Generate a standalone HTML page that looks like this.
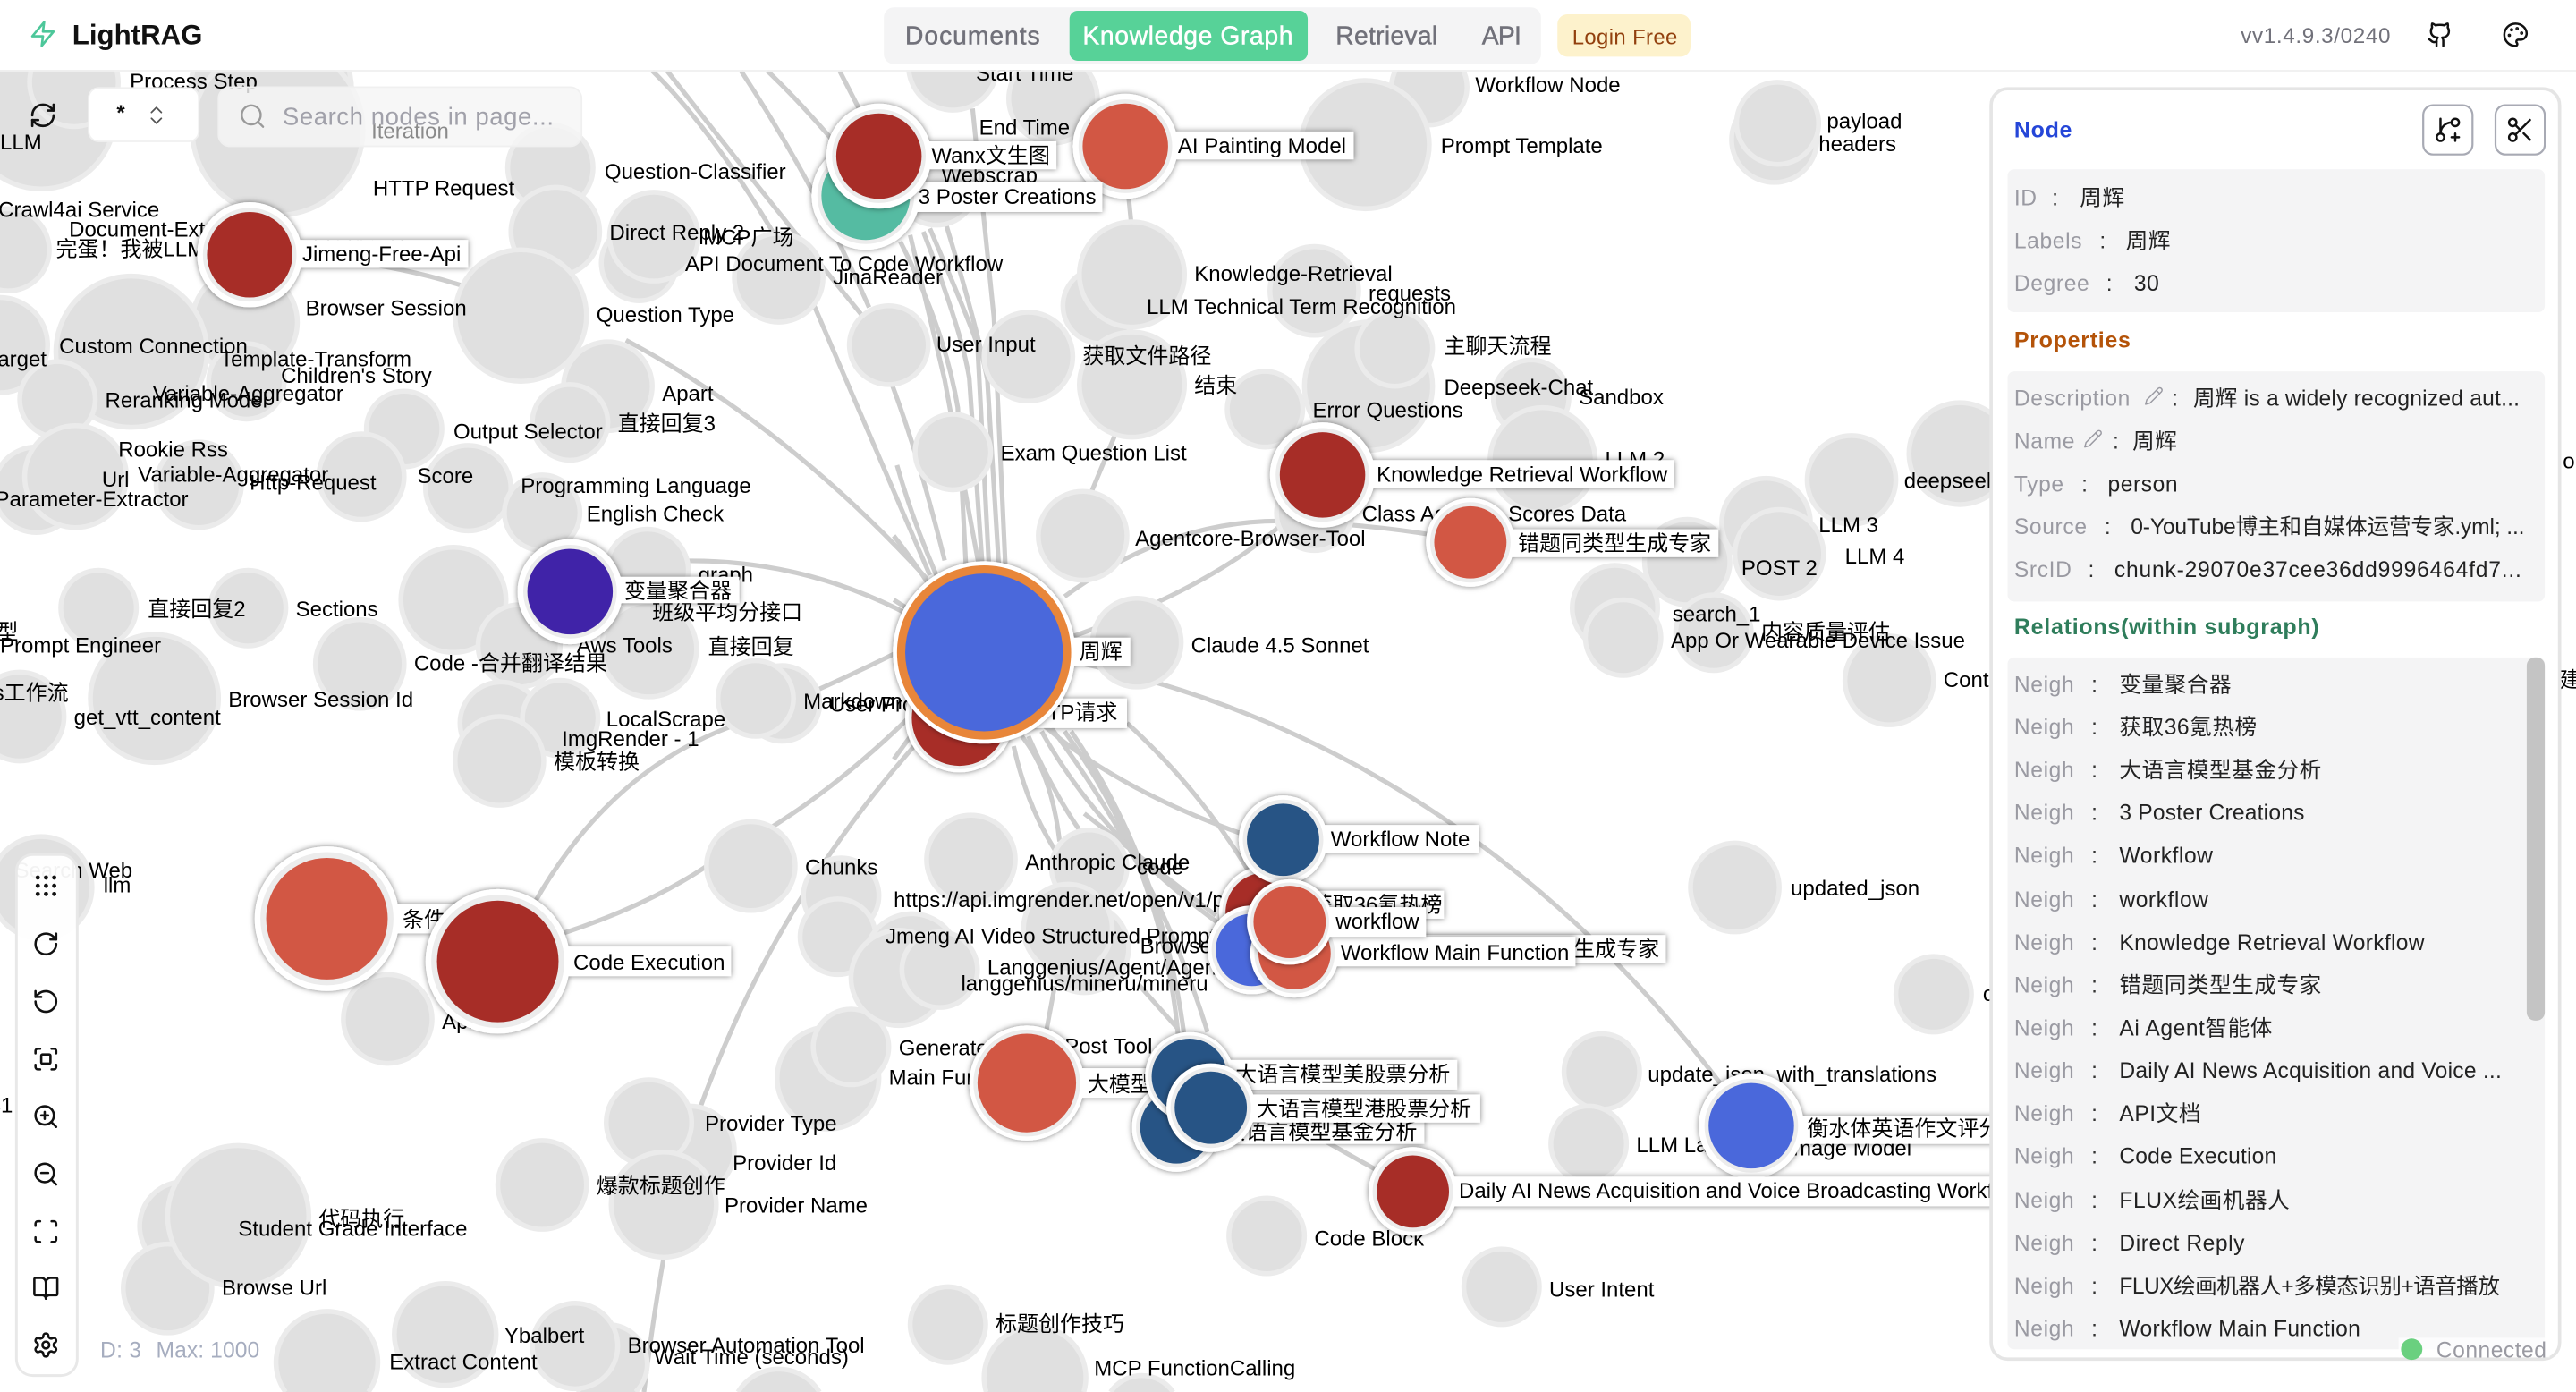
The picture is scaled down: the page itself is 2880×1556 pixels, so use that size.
<!DOCTYPE html>
<html><head><meta charset="utf-8"><title>LightRAG</title>
<style>
html,body{margin:0;padding:0;background:#fff;width:2880px;height:1556px;overflow:hidden}
svg{display:block}
text{font-family:"Liberation Sans","Noto Sans CJK SC",sans-serif;dominant-baseline:auto}
.l text,text.l{font-size:13.07px;fill:#000}
.e path{fill:none;stroke:#cdcdcd;stroke-width:2.8}
.g circle,.g path{fill:#e0e0e0;stroke:#ebebeb;stroke-width:3}
.ic{fill:none;stroke:#111;stroke-width:2;stroke-linecap:round;stroke-linejoin:round}
.k{font-size:13.4px;fill:#9a9aa2;letter-spacing:.35px}
.c{font-size:13.4px;fill:#333}
.v{font-size:13.4px;fill:#222;letter-spacing:.3px}
.h{font-size:13.6px;font-weight:bold;letter-spacing:.4px}
.t{font-size:15.4px;fill:#71717a;stroke:#71717a;stroke-width:.25}
</style></head><body>
<svg width="2880" height="1556" viewBox="0 0 1568 847" preserveAspectRatio="none" xmlns="http://www.w3.org/2000/svg">
<defs>
<filter id="s" x="-30%" y="-60%" width="160%" height="220%"><feDropShadow dx="0" dy="0" stdDeviation="1.8" flood-color="#000" flood-opacity=".5"/></filter>
<clipPath id="sec3"><rect x="1222" y="400" width="327" height="421"/></clipPath>
</defs>
<rect width="1568" height="847" fill="#fff"/>
<g class="e">
<path d="M397 43Q445 90 496 187L566 350"/>
<path d="M406 43Q470 125 524 191Q550 240 575 341"/>
<path d="M451 43Q495 110 529 187"/>
<path d="M467 43Q490 65 515 95"/>
<path d="M511 43L530 80"/>
<path d="M592 66L605 193L612 345"/>
<path d="M548 147Q575 200 583 248L588 345"/>
<path d="M554 143Q570 210 575 231L596 345"/>
<path d="M566 139Q590 195 595 210L602 345"/>
<path d="M562 141Q585 200 590 230L598 345"/>
<path d="M576 137Q595 200 601 231L608 345"/>
<path d="M687 120L689 140"/><path d="M679 264L662 305"/>
<path d="M648 363Q720 310 800 318Q840 320 875 326"/>
<path d="M630 395Q740 360 790 310"/>
<path d="M381 207Q480 260 564 352"/>
<path d="M686 440Q730 480 760 530"/>
<path d="M636 442Q680 480 755 507"/>
<path d="M640 400C800 430 950 520 1066 685"/>
<path d="M617 454Q625 490 642 517"/>
<path d="M622 448Q640 470 645 512"/>
<path d="M626 448Q640 480 657 505"/>
<path d="M634 445Q670 510 742 562"/>
<path d="M640 443Q705 530 735 628"/>
<path d="M648 445Q710 530 718 640"/>
<path d="M652 445Q710 530 722 640"/>
<path d="M660 495L740 557"/>
<path d="M693 599L717 626"/>
<path d="M336 570Q400 550 440 520Q500 490 560 430"/>
<path d="M325 550Q370 470 445 442Q500 420 550 395"/>
<path d="M560 450Q470 550 424 680Q405 740 392 847"/>
<path d="M373 345Q470 330 555 375"/>
<path d="M178 155Q240 160 285 175"/>
<path d="M546 283Q555 315 570 350"/><path d="M544 326Q555 340 565 355"/><path d="M544 365L560 375"/><path d="M544 462L560 440"/>
<path d="M790 685L838 712"/><path d="M636 632L642 600"/>
</g>
<g class="g">
<circle cx="25" cy="70" r="45"/><circle cx="45" cy="50" r="27"/><circle cx="165" cy="55" r="49"/><circle cx="169" cy="79" r="52"/>
<circle cx="335" cy="102" r="26"/><circle cx="338" cy="141" r="27"/><circle cx="389" cy="160" r="23"/><circle cx="398" cy="144" r="27"/><circle cx="317" cy="192" r="40"/><circle cx="474" cy="169" r="27"/><circle cx="541" cy="210" r="24"/>
<circle cx="5" cy="152" r="25"/><circle cx="0" cy="210" r="29"/><circle cx="149" cy="196" r="32"/><circle cx="80" cy="214" r="46"/><circle cx="35" cy="243" r="23"/><circle cx="150" cy="232" r="23"/><circle cx="246" cy="261" r="23"/><circle cx="370" cy="235" r="27"/><circle cx="347" cy="257" r="23"/>
<circle cx="220" cy="290" r="26"/><circle cx="285" cy="297" r="26"/><circle cx="121" cy="295" r="26"/><circle cx="22" cy="298" r="26"/><circle cx="46" cy="290" r="31"/><circle cx="330" cy="312" r="23"/><circle cx="394" cy="347" r="25"/><circle cx="276" cy="365" r="32"/><circle cx="60" cy="370" r="23"/><circle cx="151" cy="370" r="23"/><circle cx="219" cy="404" r="27"/><circle cx="94" cy="425" r="39"/><circle cx="12" cy="436" r="27"/><circle cx="316" cy="393" r="25"/><circle cx="395" cy="395" r="29"/><circle cx="476" cy="428" r="23"/><circle cx="460" cy="425" r="23"/><circle cx="305" cy="440" r="25"/><circle cx="341" cy="437" r="23"/><circle cx="304" cy="463" r="27"/><circle cx="457" cy="527" r="27"/><circle cx="25" cy="540" r="31"/><circle cx="512" cy="545" r="23"/><circle cx="510" cy="570" r="23"/><circle cx="555" cy="585" r="29"/>
<circle cx="236" cy="620" r="27"/><circle cx="420" cy="700" r="27"/><circle cx="395" cy="683" r="26"/><circle cx="330" cy="721" r="27"/><circle cx="404" cy="733" r="32"/><circle cx="504" cy="656" r="31"/><circle cx="518" cy="637" r="23"/><circle cx="112" cy="746" r="27"/><circle cx="102" cy="784" r="27"/><circle cx="145" cy="740" r="43"/>
<path d="M173.8 847A31 31 0 1 1 224.2 847"/><circle cx="271" cy="812" r="31"/><path d="M353.1 847A24 24 0 1 1 386.9 847"/><circle cx="350" cy="819" r="26"/><path d="M449.2 847A29 29 0 0 1 498.800 847"/>
<circle cx="771" cy="752" r="23"/><circle cx="914" cy="783" r="23"/><circle cx="577" cy="806" r="23"/><path d="M600.3 847A31 31 0 1 1 659.7 847"/><path d="M676 847A23 23 0 0 1 714 847"/><circle cx="975" cy="652" r="23"/><circle cx="967" cy="696" r="23"/><circle cx="547" cy="595" r="29"/><circle cx="572" cy="590" r="23"/><circle cx="660" cy="577" r="27"/>
<circle cx="659" cy="326" r="27"/><circle cx="692" cy="391" r="27"/><circle cx="800" cy="312" r="23"/><circle cx="580" cy="275" r="23"/><circle cx="591" cy="523" r="27"/><circle cx="663" cy="528" r="23"/><circle cx="650" cy="565" r="27"/><circle cx="1056" cy="540" r="27"/><circle cx="983" cy="370" r="26"/><circle cx="988" cy="388" r="23"/><circle cx="1027" cy="342" r="26"/><circle cx="1043" cy="385" r="23"/><circle cx="1075" cy="318" r="27"/><circle cx="1083" cy="337" r="27"/>
<circle cx="580" cy="40" r="27"/><circle cx="641" cy="60" r="27"/><circle cx="570" cy="112" r="25"/><circle cx="870" cy="53" r="23"/><circle cx="831" cy="88" r="39"/><circle cx="1080" cy="85" r="26"/><circle cx="1082" cy="75" r="25"/><circle cx="670" cy="186" r="23"/><circle cx="689" cy="167" r="32"/><circle cx="800" cy="177" r="27"/><circle cx="833" cy="235" r="39"/><circle cx="849" cy="212" r="23"/><circle cx="689" cy="234" r="32"/><circle cx="770" cy="249" r="23"/><circle cx="626" cy="217" r="27"/><circle cx="932" cy="242" r="23"/><circle cx="939" cy="280" r="32"/>
<circle cx="1193" cy="276" r="31"/><circle cx="1127" cy="292" r="27"/><circle cx="1150" cy="414" r="27"/><circle cx="1177" cy="605" r="23"/>
</g>
<g class="l">
<text x="79" y="54">Process Step</text><text x="0" y="91">LLM</text><text x="227" y="119">HTTP Request</text><text x="368" y="109">Question-Classifier</text><text x="-1" y="132">Crawl4ai Service</text><text x="42" y="144">Document-Extractor</text><text x="34" y="156">完蛋！我被LLM包围了</text><text x="184" y="157">线性排行榜</text><text x="371" y="146">Direct Reply 2</text><text x="428" y="149">MCP广场</text><text x="417" y="165">API Document To Code Workflow</text><text x="507" y="173">JinaReader</text><text x="186" y="192">Browser Session</text><text x="363" y="196">Question Type</text><text x="36" y="215">Custom Connection</text><text x="-8" y="223">Target</text><text x="134" y="223">Template-Transform</text><text x="171" y="233">Children's Story</text><text x="64" y="248">Reranking Model</text><text x="93" y="244">Variable-Aggregator</text><text x="403" y="244">Apart</text><text x="376" y="262">直接回复3</text><text x="276" y="267">Output Selector</text><text x="254" y="294">Score</text><text x="72" y="278">Rookie Rss</text><text x="62" y="296">Url</text><text x="84" y="293">Variable-Aggregator</text><text x="152" y="298">Http-Request</text><text x="-3" y="308">Parameter-Extractor</text><text x="317" y="300">Programming Language</text><text x="357" y="317">English Check</text><text x="425" y="354">graph</text><text x="397" y="377">班级平均分接口</text><text x="90" y="375">直接回复2</text><text x="180" y="375">Sections</text><text x="-2" y="389">型</text><text x="0" y="397">Prompt Engineer</text><text x="351" y="397">Aws Tools</text><text x="431" y="398">直接回复</text><text x="252" y="408">Code -合并翻译结果</text><text x="-4" y="426">s工作流</text><text x="139" y="430">Browser Session Id</text><text x="45" y="441">get_vtt_content</text><text x="369" y="442">LocalScrape</text><text x="342" y="454">ImgRender - 1</text><text x="337" y="468">模板转换</text><text x="489" y="431">Markdown</text><text x="505" y="433">User Prompt</text><text x="9" y="534">Search Web</text><text x="63" y="543">llm</text><text x="490" y="532">Chunks</text><text x="624" y="529">Anthropic Claude</text><text x="692" y="532">code</text><text x="544" y="552">https://api.imgrender.net/open/v1/pr</text><text x="539" y="574">Jmeng AI Video Structured Prompt</text><text x="694" y="580">Browse</text><text x="601" y="593">Langgenius/Agent/Agent</text><text x="585" y="603">langgenius/mineru/mineru</text><text x="547" y="642">Generate</text><text x="648" y="641">Post Tool</text><text x="541" y="660">Main Function</text><text x="429" y="688">Provider Type</text><text x="446" y="712">Provider Id</text><text x="363" y="726">爆款标题创作</text><text x="441" y="738">Provider Name</text><text x="194" y="746">代码执行</text><text x="145" y="752">Student Grade Interface</text><text x="135" y="788">Browse Url</text><text x="269" y="626">Api</text><text x="307" y="817">Ybalbert</text><text x="237" y="833">Extract Content</text><text x="382" y="823">Browser Automation Tool</text><text x="398" y="830">Wait Time (seconds)</text><text x="606" y="810">标题创作技巧</text><text x="666" y="837">MCP FunctionCalling</text><text x="943" y="789">User Intent</text><text x="800" y="758">Code Block</text><text x="996" y="701">LLM Large</text><text x="1003" y="658">update_json_with_translations</text><text x="1090" y="545">updated_json</text><text x="1207" y="609">c</text><text x="898" y="56">Workflow Node</text><text x="594" y="49">Start Time</text><text x="596" y="82">End Time</text><text x="573" y="111">Webscrap</text><text x="877" y="93">Prompt Template</text><text x="1112" y="78">payload</text><text x="1107" y="92">headers</text><text x="727" y="171">Knowledge-Retrieval</text><text x="833" y="183">requests</text><text x="698" y="191">LLM Technical Term Recognition</text><text x="570" y="214">User Input</text><text x="659" y="221">获取文件路径</text><text x="727" y="239">结束</text><text x="879" y="215">主聊天流程</text><text x="879" y="240">Deepseek-Chat</text><text x="961" y="246">Sandbox</text><text x="799" y="254">Error Questions</text><text x="609" y="280">Exam Question List</text><text x="977" y="284">LLM 2</text><text x="1159" y="297">deepseek</text><text x="1107" y="324">LLM 3</text><text x="1123" y="343">LLM 4</text><text x="1060" y="350">POST 2</text><text x="829" y="317">Class Aggre</text><text x="918" y="317">Scores Data</text><text x="691" y="332">Agentcore-Browser-Tool</text><text x="1018" y="378">search_1</text><text x="1072" y="389">内容质量评估</text><text x="1017" y="394">App Or Wearable Device Issue</text><text x="725" y="397">Claude 4.5 Sonnet</text><text x="1183" y="418">Content</text><text x="1560" y="285">o</text><text x="1558" y="418">建</text><text x="-6" y="677">s1</text><text x="1088" y="703">Image Model</text>
</g>

<g class="l">
<!-- AI Painting -->
<g filter="url(#s)"><rect x="685" y="80" width="139" height="17" fill="#fff"/><circle cx="685" cy="89" r="32" fill="#fff"/></g><circle cx="685" cy="89" r="28.5" fill="#ececec"/><circle cx="685" cy="89" r="26" fill="#d25744"/><text x="717" y="93">AI Painting Model</text>
<!-- Teal -->
<g filter="url(#s)"><rect x="527" y="111" width="144" height="18" fill="#fff"/><circle cx="527" cy="119" r="33" fill="#fff"/></g><circle cx="527" cy="119" r="29.5" fill="#ececec"/><circle cx="527" cy="119" r="27" fill="#55bba2"/><text x="559" y="124">3 Poster Creations</text>
<!-- Wanx -->
<g filter="url(#s)"><rect x="535" y="86" width="108" height="17" fill="#fff"/><circle cx="535" cy="95" r="32" fill="#fff"/></g><circle cx="535" cy="95" r="28.5" fill="#ececec"/><circle cx="535" cy="95" r="26" fill="#a72d27"/><text x="567" y="99">Wanx文生图</text>
<!-- Jimeng -->
<g filter="url(#s)"><rect x="152" y="146" width="133" height="17" fill="#fff"/><circle cx="152" cy="155" r="32" fill="#fff"/></g><circle cx="152" cy="155" r="28.5" fill="#ececec"/><circle cx="152" cy="155" r="26" fill="#a72d27"/><text x="184" y="159">Jimeng-Free-Api</text>
<!-- Indigo -->
<g filter="url(#s)"><rect x="347" y="351" width="103" height="16" fill="#fff"/><circle cx="347" cy="360" r="32" fill="#fff"/></g><circle cx="347" cy="360" r="28.5" fill="#ececec"/><circle cx="347" cy="360" r="26" fill="#4023a8"/><text x="380" y="364">变量聚合器</text>
<!-- KR workflow -->
<g filter="url(#s)"><rect x="805" y="280" width="214" height="17" fill="#fff"/><circle cx="805" cy="289" r="32" fill="#fff"/></g><circle cx="805" cy="289" r="28.5" fill="#ececec"/><circle cx="805" cy="289" r="26" fill="#a72d27"/><text x="838" y="293">Knowledge Retrieval Workflow</text>
<!-- cuoti -->
<g filter="url(#s)"><rect x="895" y="322" width="151" height="17" fill="#fff"/><circle cx="895" cy="330" r="27" fill="#fff"/></g><circle cx="895" cy="330" r="24.5" fill="#ececec"/><circle cx="895" cy="330" r="22" fill="#d25744"/><text x="924" y="335">错题同类型生成专家</text>
<!-- HTTP -->
<g filter="url(#s)"><rect x="584" y="425" width="102" height="18" fill="#fff"/><circle cx="584" cy="437" r="33" fill="#fff"/></g><circle cx="584" cy="437" r="31" fill="#ececec"/><circle cx="584" cy="437" r="29" fill="#a72d27"/><text x="620" y="438">HTTP请求</text>
<!-- Hub -->
<g filter="url(#s)"><rect x="598" y="388" width="90" height="17" fill="#fff"/><circle cx="599" cy="397" r="55.5" fill="#fff"/></g><circle cx="599" cy="397" r="53" fill="#e8863a"/><circle cx="599" cy="397" r="48" fill="#4a68db"/><text x="657" y="401">周辉</text>
<!-- 36 -->
<g filter="url(#s)"><rect x="770" y="542" width="109" height="17" fill="#fff"/><circle cx="770" cy="555" r="28" fill="#fff"/></g><circle cx="770" cy="555" r="26" fill="#ececec"/><circle cx="770" cy="555" r="24" fill="#a72d27"/><text x="798" y="555">获取36氪热榜</text>
<!-- Workflow Note -->
<g filter="url(#s)"><rect x="781" y="502" width="119" height="17" fill="#fff"/><circle cx="781" cy="511" r="27" fill="#fff"/></g><circle cx="781" cy="511" r="24.5" fill="#ececec"/><circle cx="781" cy="511" r="22" fill="#275485"/><text x="810" y="515">Workflow Note</text>
<!-- blue w/ long label -->
<g filter="url(#s)"><rect x="762" y="569" width="252" height="17" fill="#fff"/><circle cx="762" cy="578" r="27" fill="#fff"/></g><circle cx="762" cy="578" r="24.5" fill="#ececec"/><circle cx="762" cy="578" r="22" fill="#4a68db"/><text x="1010" y="582" text-anchor="end">生成专家</text>
<!-- WMF -->
<g filter="url(#s)"><rect x="788" y="570" width="171" height="18" fill="#fff"/><circle cx="788" cy="580" r="27" fill="#fff"/></g><circle cx="788" cy="580" r="24.5" fill="#ececec"/><circle cx="788" cy="580" r="22" fill="#d25744"/><text x="816" y="584">Workflow Main Function</text>
<!-- workflow -->
<g filter="url(#s)"><rect x="785" y="552" width="83" height="18" fill="#fff"/><circle cx="785" cy="561" r="26" fill="#fff"/></g><circle cx="785" cy="561" r="24" fill="#ececec"/><circle cx="785" cy="561" r="22" fill="#d25744"/><text x="813" y="565">workflow</text>
<!-- Damoxing -->
<g filter="url(#s)"><rect x="625" y="650" width="90" height="18" fill="#fff"/><circle cx="625" cy="659" r="35" fill="#fff"/></g><circle cx="625" cy="659" r="32.5" fill="#ececec"/><circle cx="625" cy="659" r="30" fill="#d25744"/><text x="662" y="664">大模型</text>
<!-- Fund -->
<g filter="url(#s)"><rect x="716" y="679" width="151" height="17" fill="#fff"/><circle cx="716" cy="686" r="27" fill="#fff"/></g><circle cx="716" cy="686" r="24.5" fill="#ececec"/><circle cx="716" cy="686" r="22" fill="#275485"/><text x="745" y="693">大语言模型基金分析</text>
<!-- US -->
<g filter="url(#s)"><rect x="724" y="645" width="163" height="18" fill="#fff"/><circle cx="724" cy="655" r="27" fill="#fff"/></g><circle cx="724" cy="655" r="25" fill="#ececec"/><circle cx="724" cy="655" r="23" fill="#275485"/><text x="752" y="658">大语言模型美股票分析</text>
<!-- HK -->
<g filter="url(#s)"><rect x="737" y="666" width="164" height="17" fill="#fff"/><circle cx="737" cy="674" r="27" fill="#fff"/></g><circle cx="737" cy="674" r="24.5" fill="#ececec"/><circle cx="737" cy="674" r="22" fill="#275485"/><text x="765" y="679">大语言模型港股票分析</text>
<!-- Hengshui -->
<g filter="url(#s)"><rect x="1066" y="679" width="200" height="17" fill="#fff"/><circle cx="1066" cy="685" r="32" fill="#fff"/></g><circle cx="1066" cy="685" r="28.5" fill="#ececec"/><circle cx="1066" cy="685" r="26" fill="#4a68db"/><text x="1100" y="691">衡水体英语作文评分</text>
<!-- Daily -->
<g filter="url(#s)"><rect x="860" y="716" width="400" height="18" fill="#fff"/><circle cx="860" cy="725" r="27" fill="#fff"/></g><circle cx="860" cy="725" r="24.5" fill="#ececec"/><circle cx="860" cy="725" r="22" fill="#a72d27"/><text x="888" y="729">Daily AI News Acquisition and Voice Broadcasting Workflow</text>
<!-- Cond -->
<g filter="url(#s)"><rect x="199" y="550" width="100" height="18" fill="#fff"/><circle cx="199" cy="559" r="44" fill="#fff"/></g><circle cx="199" cy="559" r="40.5" fill="#ececec"/><circle cx="199" cy="559" r="37" fill="#d25744"/><text x="245" y="564">条件分支</text>
<!-- Code Exec -->
<g filter="url(#s)"><rect x="303" y="576" width="142" height="18" fill="#fff"/><circle cx="303" cy="585" r="44" fill="#fff"/></g><circle cx="303" cy="585" r="40.5" fill="#ececec"/><circle cx="303" cy="585" r="37" fill="#a72d27"/><text x="349" y="590">Code Execution</text>
</g>

<!-- Header -->
<rect x="0" y="0" width="1568" height="42.5" fill="#fff"/><rect x="0" y="42.5" width="1568" height="1" fill="#f0f0f0"/>
<g transform="translate(17.5,12) scale(.72)" fill="none" stroke="#4dc79a" stroke-width="2" stroke-linejoin="round"><polygon points="13 2 3 14 12 14 11 22 21 10 12 10 13 2"/></g>
<text x="44" y="27" font-size="17" font-weight="bold" fill="#111">LightRAG</text>
<rect x="538" y="4.5" width="400" height="34.5" rx="6" fill="#f4f4f5"/>
<rect x="651" y="6.5" width="145" height="30.5" rx="5" fill="#57d298"/>
<text class="t" x="551" y="27" textLength="82" lengthAdjust="spacing">Documents</text>
<text class="t" x="659" y="27" textLength="128" lengthAdjust="spacing" style="fill:#fff;stroke:#fff">Knowledge Graph</text>
<text class="t" x="813" y="27" textLength="62" lengthAdjust="spacing">Retrieval</text>
<text class="t" x="902" y="27" textLength="24" lengthAdjust="spacing">API</text>
<rect x="948" y="8.7" width="81" height="25.8" rx="6" fill="#fdf2cc"/>
<text x="957" y="27" font-size="13" fill="#92400e" textLength="64" lengthAdjust="spacing">Login Free</text>
<text x="1364" y="26" font-size="13.2" fill="#71717a" textLength="91" lengthAdjust="spacing">vv1.4.9.3/0240</text>
<g class="ic" transform="translate(1477,13) scale(.68)"><path d="M15 22v-4a4.8 4.8 0 0 0-1-3.5c3 0 6-2 6-5.5.08-1.25-.27-2.48-1-3.5.28-1.15.28-2.35 0-3.5 0 0-1 0-3 1.5-2.64-.5-5.36-.5-8 0C6 2 5 2 5 2c-.3 1.15-.3 2.35 0 3.5A5.403 5.403 0 0 0 4 9c0 3.5 3 5.5 6 5.5-.39.49-.68 1.05-.85 1.65-.17.6-.22 1.23-.15 1.85v4"/><path d="M9 18c-4.51 2-5-2-7-2"/></g>
<g class="ic" transform="translate(1523,13) scale(.68)"><path d="M12 2C6.5 2 2 6.5 2 12s4.5 10 10 10c.926 0 1.648-.746 1.648-1.688 0-.437-.18-.835-.437-1.125-.29-.289-.438-.652-.438-1.125a1.64 1.64 0 0 1 1.668-1.668h1.996c3.051 0 5.555-2.503 5.555-5.554C21.965 6.012 17.461 2 12 2z"/><circle cx="13.5" cy="6.5" r=".5" fill="#111"/><circle cx="17.5" cy="10.5" r=".5" fill="#111"/><circle cx="8.5" cy="7.5" r=".5" fill="#111"/><circle cx="6.5" cy="12.5" r=".5" fill="#111"/></g>

<!-- Top-left controls -->
<g class="ic" transform="translate(17.5,61.5) scale(.72)"><path d="M3 12a9 9 0 0 1 9-9 9.75 9.75 0 0 1 6.74 2.74L21 8"/><path d="M21 3v5h-5"/><path d="M21 12a9 9 0 0 1-9 9 9.75 9.75 0 0 1-6.74-2.74L3 16"/><path d="M8 16H3v5"/></g>
<rect x="54" y="53.5" width="67" height="32.5" rx="6" fill="#fff" stroke="#f0f0f0"/>
<text x="71" y="73" font-size="13" font-weight="bold" fill="#111">*</text>
<g class="ic" style="stroke:#555;stroke-width:1.6" transform="translate(88,63) scale(.6)"><path d="m7 15 5 5 5-5"/><path d="m7 9 5-5 5 5"/></g>
<rect x="133" y="53" width="221" height="36" rx="7" fill="#f5f5f5" fill-opacity=".82" stroke="#f0f0f0"/>
<text x="226" y="84" font-size="13.07" fill="#8a8a8a">Iteration</text>
<g class="ic" style="stroke:#9a9a9a;stroke-width:1.8" transform="translate(145,62) scale(.72)"><circle cx="11" cy="11" r="8"/><path d="m21 21-4.3-4.3"/></g>
<text x="172" y="76" font-size="15" fill="#a1a1aa" textLength="165" lengthAdjust="spacing">Search nodes in page...</text>

<!-- Left toolbar -->
<rect x="10" y="520" width="37" height="317" rx="10" fill="#fff" fill-opacity=".95" stroke="#e8e8e8" stroke-width="1.6"/>
<g fill="#111"><circle cx="23" cy="534" r="1.3"/><circle cx="28" cy="534" r="1.3"/><circle cx="33" cy="534" r="1.3"/><circle cx="23" cy="539" r="1.3"/><circle cx="28" cy="539" r="1.3"/><circle cx="33" cy="539" r="1.3"/><circle cx="23" cy="544" r="1.3"/><circle cx="28" cy="544" r="1.3"/><circle cx="33" cy="544" r="1.3"/></g>
<g class="ic" transform="translate(19.5,566) scale(.7)"><path d="M21 12a9 9 0 1 1-9-9c2.52 0 4.93 1 6.74 2.74L21 8"/><path d="M21 3v5h-5"/></g>
<g class="ic" transform="translate(19.5,601) scale(.7)"><path d="M3 12a9 9 0 1 0 9-9 9.75 9.75 0 0 0-6.74 2.74L3 8"/><path d="M3 3v5h5"/></g>
<g class="ic" transform="translate(19.5,636) scale(.7)"><path d="M3 7V5a2 2 0 0 1 2-2h2"/><path d="M17 3h2a2 2 0 0 1 2 2v2"/><path d="M21 17v2a2 2 0 0 1-2 2h-2"/><path d="M7 21H5a2 2 0 0 1-2-2v-2"/><rect x="8" y="8" width="8" height="8" rx="1"/></g>
<g class="ic" transform="translate(19.5,671) scale(.7)"><circle cx="11" cy="11" r="8"/><path d="m21 21-4.3-4.3"/><path d="M11 8v6"/><path d="M8 11h6"/></g>
<g class="ic" transform="translate(19.5,706) scale(.7)"><circle cx="11" cy="11" r="8"/><path d="m21 21-4.3-4.3"/><path d="M8 11h6"/></g>
<g class="ic" transform="translate(19.5,741) scale(.7)"><path d="M3 7V5a2 2 0 0 1 2-2h2"/><path d="M17 3h2a2 2 0 0 1 2 2v2"/><path d="M21 17v2a2 2 0 0 1-2 2h-2"/><path d="M7 21H5a2 2 0 0 1-2-2v-2"/></g>
<g class="ic" transform="translate(19.5,775.5) scale(.7)"><path d="M12 7v14"/><path d="M3 18a1 1 0 0 1-1-1V4a1 1 0 0 1 1-1h5a4 4 0 0 1 4 4 4 4 0 0 1 4-4h5a1 1 0 0 1 1 1v13a1 1 0 0 1-1 1h-6a3 3 0 0 0-3 3 3 3 0 0 0-3-3z"/></g>
<g class="ic" transform="translate(19.5,810) scale(.7)"><path d="M12.22 2h-.44a2 2 0 0 0-2 2v.18a2 2 0 0 1-1 1.73l-.43.25a2 2 0 0 1-2 0l-.15-.08a2 2 0 0 0-2.73.73l-.22.38a2 2 0 0 0 .73 2.73l.15.1a2 2 0 0 1 1 1.72v.51a2 2 0 0 1-1 1.74l-.15.09a2 2 0 0 0-.73 2.73l.22.38a2 2 0 0 0 2.73.73l.15-.08a2 2 0 0 1 2 0l.43.25a2 2 0 0 1 1 1.73V20a2 2 0 0 0 2 2h.44a2 2 0 0 0 2-2v-.18a2 2 0 0 1 1-1.73l.43-.25a2 2 0 0 1 2 0l.15.08a2 2 0 0 0 2.73-.73l.22-.39a2 2 0 0 0-.73-2.73l-.15-.08a2 2 0 0 1-1-1.74v-.5a2 2 0 0 1 1-1.74l.15-.09a2 2 0 0 0 .73-2.73l-.22-.38a2 2 0 0 0-2.73-.73l-.15.08a2 2 0 0 1-2 0l-.43-.25a2 2 0 0 1-1-1.73V4a2 2 0 0 0-2-2z"/><circle cx="12" cy="12" r="3"/></g>
<text x="61" y="826" font-size="13.4" fill="#a6adbf" textLength="25" lengthAdjust="spacing">D: 3</text><text x="95" y="826" font-size="13.4" fill="#a6adbf" textLength="63" lengthAdjust="spacing">Max: 1000</text>

<!-- Panel -->
<rect x="1212" y="54" width="346" height="773" rx="10" fill="#fff" stroke="#e5e5e5" stroke-width="2"/>
<text class="h" x="1226" y="83.5" fill="#2546d8">Node</text>
<rect x="1475" y="64" width="30" height="30" rx="6" fill="#fff" stroke="#a8aab4" stroke-width="1.2"/>
<rect x="1519" y="64" width="30" height="30" rx="6" fill="#fff" stroke="#a8aab4" stroke-width="1.2"/>
<g class="ic" style="stroke-width:1.8" transform="translate(1481,70) scale(.75)"><path d="M6 3v12"/><path d="M18 9a3 3 0 1 0 0-6 3 3 0 0 0 0 6z"/><path d="M6 21a3 3 0 1 0 0-6 3 3 0 0 0 0 6z"/><path d="M15 6a9 9 0 0 0-9 9"/><path d="M18 15v6"/><path d="M21 18h-6"/></g>
<g class="ic" style="stroke-width:1.8" transform="translate(1525,70) scale(.75)"><circle cx="6" cy="6" r="3"/><path d="M8.12 8.12 12 12"/><path d="M20 4 8.12 15.88"/><circle cx="6" cy="18" r="3"/><path d="M14.8 14.8 20 20"/></g>
<rect x="1222" y="103" width="327" height="87" rx="4" fill="#f4f4f5"/>
<text class="k" x="1226" y="125">ID</text><text class="c" x="1249" y="125">:</text><text class="v" x="1266" y="125">周辉</text>
<text class="k" x="1226" y="151">Labels</text><text class="c" x="1278" y="151">:</text><text class="v" x="1294" y="151">周辉</text>
<text class="k" x="1226" y="177">Degree</text><text class="c" x="1282" y="177">:</text><text class="v" x="1299" y="177">30</text>
<text class="h" x="1226" y="211.5" fill="#b45309">Properties</text>
<rect x="1222" y="226" width="327" height="140" rx="4" fill="#f4f4f5"/>
<text class="k" x="1226" y="247">Description</text><g class="ic" style="stroke:#9a9aa2;stroke-width:1.6" transform="translate(1305,235) scale(.5)"><path d="M17 3a2.85 2.83 0 1 1 4 4L7.5 20.5 2 22l1.5-5.5Z"/><path d="m15 5 4 4"/></g><text class="c" x="1322" y="247">:</text><text class="v" x="1335" y="247" textLength="199" lengthAdjust="spacing">周辉 is a widely recognized aut...</text>
<text class="k" x="1226" y="273">Name</text><g class="ic" style="stroke:#9a9aa2;stroke-width:1.6" transform="translate(1268,261) scale(.5)"><path d="M17 3a2.85 2.83 0 1 1 4 4L7.5 20.5 2 22l1.5-5.5Z"/><path d="m15 5 4 4"/></g><text class="c" x="1286" y="273">:</text><text class="v" x="1298" y="273">周辉</text>
<text class="k" x="1226" y="299">Type</text><text class="c" x="1267" y="299">:</text><text class="v" x="1283" y="299">person</text>
<text class="k" x="1226" y="325">Source</text><text class="c" x="1281" y="325">:</text><text class="v" x="1297" y="325" textLength="240" lengthAdjust="spacing">0-YouTube博主和自媒体运营专家.yml; ...</text>
<text class="k" x="1226" y="351">SrcID</text><text class="c" x="1271" y="351">:</text><text class="v" x="1287" y="351" textLength="248" lengthAdjust="spacing">chunk-29070e37cee36dd9996464fd7...</text>
<text class="h" x="1226" y="386" fill="#2f7d5b" textLength="186" lengthAdjust="spacing">Relations(within subgraph)</text>
<rect x="1222" y="400" width="327" height="421" rx="4" fill="#f4f4f5"/>
<rect x="1538" y="400" width="11" height="221" rx="5" fill="#c4c4c4"/>
<g clip-path="url(#sec3)">
<text class="k" x="1226" y="421">Neigh</text><text class="c" x="1273" y="421">:</text><text class="v" x="1290" y="421">变量聚合器</text>
<text class="k" x="1226" y="447">Neigh</text><text class="c" x="1273" y="447">:</text><text class="v" x="1290" y="447">获取36氪热榜</text>
<text class="k" x="1226" y="473">Neigh</text><text class="c" x="1273" y="473">:</text><text class="v" x="1290" y="473">大语言模型基金分析</text>
<text class="k" x="1226" y="499">Neigh</text><text class="c" x="1273" y="499">:</text><text class="v" x="1290" y="499" textLength="113" lengthAdjust="spacing">3 Poster Creations</text>
<text class="k" x="1226" y="525">Neigh</text><text class="c" x="1273" y="525">:</text><text class="v" x="1290" y="525">Workflow</text>
<text class="k" x="1226" y="552">Neigh</text><text class="c" x="1273" y="552">:</text><text class="v" x="1290" y="552">workflow</text>
<text class="k" x="1226" y="578">Neigh</text><text class="c" x="1273" y="578">:</text><text class="v" x="1290" y="578" textLength="186" lengthAdjust="spacing">Knowledge Retrieval Workflow</text>
<text class="k" x="1226" y="604">Neigh</text><text class="c" x="1273" y="604">:</text><text class="v" x="1290" y="604">错题同类型生成专家</text>
<text class="k" x="1226" y="630">Neigh</text><text class="c" x="1273" y="630">:</text><text class="v" x="1290" y="630">Ai Agent智能体</text>
<text class="k" x="1226" y="656">Neigh</text><text class="c" x="1273" y="656">:</text><text class="v" x="1290" y="656" textLength="233" lengthAdjust="spacing">Daily AI News Acquisition and Voice ...</text>
<text class="k" x="1226" y="682">Neigh</text><text class="c" x="1273" y="682">:</text><text class="v" x="1290" y="682">API文档</text>
<text class="k" x="1226" y="708">Neigh</text><text class="c" x="1273" y="708">:</text><text class="v" x="1290" y="708" textLength="96" lengthAdjust="spacing">Code Execution</text>
<text class="k" x="1226" y="735">Neigh</text><text class="c" x="1273" y="735">:</text><text class="v" x="1290" y="735">FLUX绘画机器人</text>
<text class="k" x="1226" y="761">Neigh</text><text class="c" x="1273" y="761">:</text><text class="v" x="1290" y="761">Direct Reply</text>
<text class="k" x="1226" y="787">Neigh</text><text class="c" x="1273" y="787">:</text><text class="v" x="1290" y="787" textLength="232" lengthAdjust="spacing">FLUX绘画机器人+多模态识别+语音播放</text>
<text class="k" x="1226" y="813">Neigh</text><text class="c" x="1273" y="813">:</text><text class="v" x="1290" y="813" textLength="147" lengthAdjust="spacing">Workflow Main Function</text>
</g>
<rect x="1460" y="814" width="92" height="12" fill="#fff" fill-opacity=".75"/>
<circle cx="1468" cy="821" r="6.5" fill="#6ad07f"/>
<text x="1483" y="826" font-size="13.4" fill="#9a9aa2" textLength="67" lengthAdjust="spacing">Connected</text>
</svg>
</body></html>
